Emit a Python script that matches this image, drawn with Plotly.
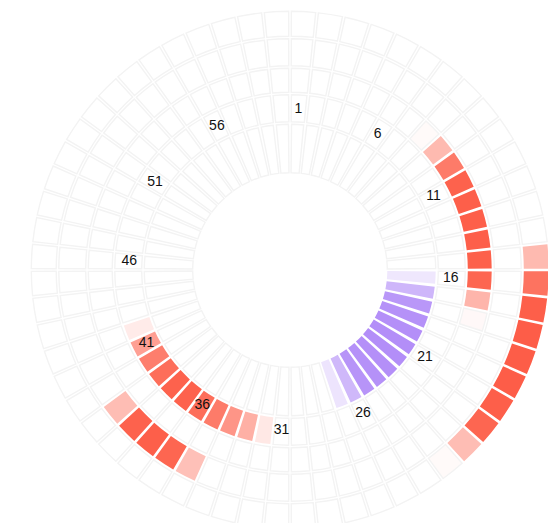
import math
import plotly.graph_objects as go

# ---------------- data ----------------
n_cells = 60
label_cells = [1, 6, 11, 16, 21, 26, 31, 36, 41, 46, 51, 56]

inner_cells = [16, 17, 18, 19, 20, 21, 22, 23, 24, 25, 26, 27]
inner_values = [0.2, 0.6, 0.85, 0.9, 0.92, 0.93, 0.93, 0.92, 0.9, 0.88, 0.58, 0.22]

ring1_cells = [32, 33, 34, 35, 36, 37, 38, 39, 40, 41, 42]
ring1_values = [0.14, 0.48, 0.64, 0.8, 0.88, 0.95, 0.95, 0.88, 0.78, 0.58, 0.12]

ring2_cells = [8, 9, 10, 11, 12, 13, 14, 15, 16, 17, 18]
ring2_values = [0.03, 0.42, 0.8, 0.95, 0.97, 0.97, 0.97, 0.96, 0.93, 0.45, 0.04]

ring3_cells = [35, 36, 37, 38, 39]
ring3_values = [0.38, 0.93, 0.97, 0.95, 0.4]

ring4_cells = [15, 16, 17, 18, 19, 20, 21, 22, 23, 24]
ring4_values = [0.42, 0.85, 0.97, 0.98, 0.98, 0.98, 0.97, 0.93, 0.4, 0.03]

# ---------------- layout constants ----------------
ring_bounds = [(96, 147), (147, 176.5), (176.5, 203), (203, 232.5), (232.5, 260)]
RED = [[0, "#ffffff"], [1, "#fd5a44"]]
PURPLE = [[0, "#ffffff"], [1, "#ad85f7"]]
GRID = "rgb(243,243,243)"


def full(cells, values):
    arr = [0.0] * n_cells
    for c, v in zip(cells, values):
        arr[c - 1] = v
    return arr


rings = [
    (full(inner_cells, inner_values), PURPLE),
    (full(ring1_cells, ring1_values), RED),
    (full(ring2_cells, ring2_values), RED),
    (full(ring3_cells, ring3_values), RED),
    (full(ring4_cells, ring4_values), RED),
]

cells = list(range(1, n_cells + 1))
step = 360 / n_cells
theta = [(c - 1) * step + step / 2 for c in cells]

fig = go.Figure()

for (vals, cs), (r0, r1) in zip(rings, ring_bounds):
    pad = 1.3
    mid = (r0 + r1) / 2
    gap_deg = 2.6 / mid * 180 / math.pi
    line_cols = [GRID if v < 0.1 else "rgba(255,255,255,0)" for v in vals]
    fig.add_trace(go.Barpolar(
        r=[r1 - r0 - 2 * pad] * n_cells,
        base=[r0 + pad] * n_cells,
        theta=theta,
        width=[step - gap_deg] * n_cells,
        marker=dict(color=vals, colorscale=cs, cmin=0, cmax=1,
                    line=dict(color=line_cols, width=1.4)),
        hoverinfo="skip",
        showlegend=False,
    ))

fig.add_trace(go.Scatterpolar(
    r=[161] * len(label_cells),
    theta=[(c - 1) * step + step / 2 for c in label_cells],
    mode="text",
    text=[str(c) for c in label_cells],
    textfont=dict(family="Liberation Sans, Arial, sans-serif", size=14, color="#111111"),
    hoverinfo="skip",
    showlegend=False,
))

W, H = 556, 523
cx, cy, R = 282, 262, 260
fig.update_layout(
    width=W, height=H,
    margin=dict(l=0, r=0, t=0, b=0),
    paper_bgcolor="white",
    polar=dict(
        domain=dict(x=[(cx - R) / W, (cx + R) / W], y=[(H - cy - R) / H, (H - cy + R) / H]),
        bgcolor="white",
        hole=0,
        barmode="overlay",
        radialaxis=dict(range=[0, R], visible=False, showgrid=False),
        angularaxis=dict(rotation=90, direction="clockwise", visible=False,
                         showgrid=False, thetaunit="degrees"),
    ),
)

fig.write_html("out.html")
